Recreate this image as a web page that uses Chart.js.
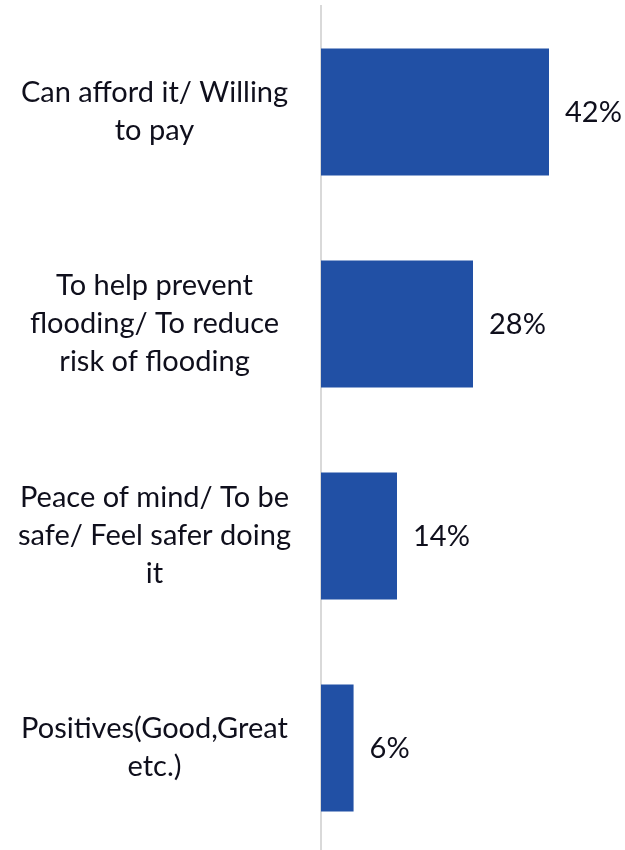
<!DOCTYPE html>
<html>
<head>
<meta charset="utf-8">
<script src="https://cdn.jsdelivr.net/npm/chart.js@4/dist/chart.umd.min.js"></script>
<style>
  html, body { margin: 0; padding: 0; background: #ffffff; overflow: hidden; }
  #wrap { width: 625px; height: 856px; }
</style>
</head>
<body>
<div id="wrap"><canvas id="chart" width="625" height="856"></canvas></div>
<script>
// Reasons given, one entry per bar (each inner array is one wrapped label)
const categories = [
  ["Can afford it/ Willing", "to pay"],
  ["To help prevent", "flooding/ To reduce", "risk of flooding"],
  ["Peace of mind/ To be", "safe/ Feel safer doing", "it"],
  ["Positives(Good,Great", "etc.)"]
];
// Share of respondents, percent
const shares = [42, 28, 14, 6];
const valueLabels = ["42%", "28%", "14%", "6%"];

const FONT = "Lato, 'Liberation Sans', sans-serif";
const TEXT = "#0f0f1c";

// Writes each bar's percentage just past its end
const barValueLabels = {
  id: "barValueLabels",
  afterDatasetsDraw(chart) {
    const ctx = chart.ctx;
    const meta = chart.getDatasetMeta(0);
    ctx.save();
    ctx.font = "29px " + FONT;
    ctx.fillStyle = TEXT;
    ctx.textAlign = "left";
    ctx.textBaseline = "middle";
    meta.data.forEach((bar, i) => {
      ctx.fillText(valueLabels[i], bar.x + 16, bar.y + 1);
    });
    ctx.restore();
  }
};

new Chart(document.getElementById("chart"), {
  type: "bar",
  data: {
    labels: categories,
    datasets: [{
      data: shares,
      backgroundColor: "#2150a5",
      borderWidth: 0,
      barPercentage: 0.6,
      categoryPercentage: 1.0
    }]
  },
  options: {
    indexAxis: "y",
    responsive: false,
    animation: false,
    devicePixelRatio: 1,
    layout: { padding: { top: 6, bottom: 2, left: 0, right: 0 } },
    plugins: {
      legend: { display: false },
      tooltip: { enabled: false }
    },
    scales: {
      x: {
        display: false,
        min: 0,
        max: 56
      },
      y: {
        afterFit(scale) {
          scale.width = 321;
          scale.paddingTop = 0;
          scale.paddingBottom = 0;
        },
        grid: { display: false, drawTicks: false },
        border: { display: true, color: "#d9d9d9", width: 2 },
        ticks: {
          crossAlign: "center",
          padding: 30,
          color: TEXT,
          font: { family: FONT, size: 29, lineHeight: 1.31 }
        }
      }
    }
  },
  plugins: [barValueLabels]
});
</script>
</body>
</html>
